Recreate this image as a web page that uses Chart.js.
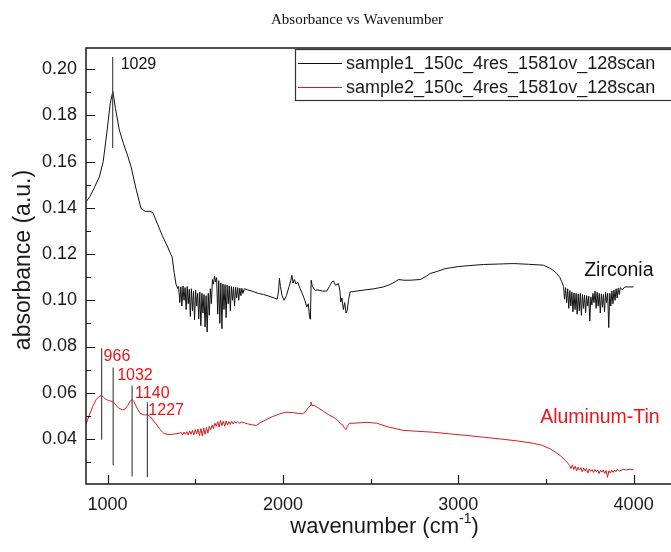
<!DOCTYPE html>
<html>
<head>
<meta charset="utf-8">
<title>Absorbance vs Wavenumber</title>
<script src="https://cdn.jsdelivr.net/npm/chart.js@4.4.1/dist/chart.umd.min.js"></script>
<style>
    html, body { margin: 0; padding: 0; background: #fff; }
    #wrap { width: 671px; height: 552px; overflow: hidden; }
    canvas { display: block; }
</style>
</head>
<body>
<div id="wrap"><canvas id="spectrum" width="700" height="552"></canvas></div>
<script>
// Sample 1 (zirconia) spectrum
const wn1 = [877, 900, 925, 953, 975, 995, 1015, 1030, 1045, 1067, 1090, 1115, 1134, 1160, 1191, 1215, 1240, 1258, 1285, 1315, 1343, 1360, 1368, 1380, 1390, 1400,
    1405, 1412, 1418, 1424, 1430, 1436, 1442, 1448, 1454, 1460, 1466, 1472, 1478, 1484, 1490, 1496, 1502, 1508, 1514, 1520, 1526, 1532, 1538, 1544, 1550, 1556, 1562, 1568, 1574, 1580, 1586, 1592, 1598,
    1604, 1610, 1616, 1622, 1628, 1634, 1640, 1646, 1652, 1658, 1664, 1670, 1676, 1682, 1688, 1694, 1700, 1706, 1712, 1718, 1724, 1730, 1736, 1742, 1748, 1754, 1760, 1766, 1772, 1780,
    1800, 1830, 1860, 1890, 1920, 1950, 1968, 1975, 1980, 1986, 1995, 2007, 2020, 2035, 2045, 2051, 2058, 2065, 2075, 2085, 2098, 2110, 2125, 2136, 2145, 2152, 2157, 2161, 2168, 2184,
    2200, 2225, 2250, 2265, 2280, 2288, 2300, 2317, 2325, 2330, 2336, 2345, 2352, 2360, 2366, 2374, 2383, 2420, 2479, 2520, 2573, 2610, 2640, 2659, 2690, 2726, 2783, 2820, 2840, 2880, 2925, 2950,
    3000, 3060, 3144, 3230, 3315, 3400, 3486, 3520, 3545, 3562, 3580, 3590,
    3600, 3606, 3612, 3618, 3624, 3630, 3636, 3642, 3648, 3654, 3660, 3666, 3672, 3678, 3684, 3690, 3696, 3702, 3708, 3714, 3720, 3726, 3732, 3738, 3744, 3750, 3756, 3762, 3768, 3774, 3780,
    3786, 3792, 3798, 3804, 3810, 3816, 3822, 3828, 3834, 3840, 3846, 3852, 3858, 3864, 3870, 3876, 3882, 3888, 3894, 3900, 3906, 3912, 3918, 3924, 3935, 3950, 3970, 3999];
const abs1 = [0.1426, 0.1450, 0.1488, 0.1534, 0.1600, 0.1720, 0.1850, 0.1905, 0.1830, 0.1737, 0.1680, 0.1625, 0.1578, 0.1490, 0.1397, 0.1385, 0.1385, 0.1380, 0.1330, 0.1275, 0.1231, 0.1200, 0.1188, 0.1120, 0.1070, 0.1051,
    0.1060, 0.0990, 0.1058, 0.0975, 0.1062, 0.1000, 0.1055, 0.0960, 0.1060, 0.0985, 0.1048, 0.0930, 0.1050, 0.0955, 0.1040, 0.0915, 0.1045, 0.0975, 0.1030, 0.0920, 0.1035, 0.0890, 0.1030, 0.0945, 0.1025, 0.0885, 0.1020, 0.0863, 0.1030, 0.0935, 0.1050, 0.0985, 0.1090,
    0.1070, 0.1105, 0.1080, 0.1098, 0.0940, 0.1085, 0.0900, 0.1075, 0.0877, 0.1070, 0.0960, 0.1068, 0.0925, 0.1065, 0.0985, 0.1062, 0.0955, 0.1060, 0.1000, 0.1058, 0.0975, 0.1057, 0.1010, 0.1055, 0.1000, 0.1053, 0.1020, 0.1052, 0.1030, 0.1050,
    0.1045, 0.1038, 0.1030, 0.1025, 0.1018, 0.1010, 0.1005, 0.1040, 0.1095, 0.1060, 0.1020, 0.1000, 0.1020, 0.1060, 0.1085, 0.1108, 0.1075, 0.1090, 0.1070, 0.1078, 0.1051, 0.1030, 0.1000, 0.0971, 0.0985, 0.0925, 0.0918, 0.1087, 0.1060, 0.1043,
    0.1045, 0.1040, 0.1040, 0.1060, 0.1080, 0.1084, 0.1065, 0.1072, 0.1040, 0.0993, 0.1010, 0.0960, 0.0990, 0.0945, 0.0955, 0.1000, 0.1036, 0.1040, 0.1046, 0.1050, 0.1058, 0.1068, 0.1080, 0.1090, 0.1087, 0.1087, 0.1090, 0.1105, 0.1116, 0.1125, 0.1137, 0.1140,
    0.1146, 0.1150, 0.1155, 0.1157, 0.1159, 0.1156, 0.1152, 0.1140, 0.1128, 0.1116, 0.1098, 0.1080,
    0.1060, 0.1005, 0.1055, 0.0990, 0.1050, 0.0965, 0.1042, 0.0975, 0.1035, 0.0950, 0.1032, 0.0960, 0.1030, 0.0940, 0.1028, 0.0955, 0.1030, 0.0935, 0.1025, 0.0965, 0.1022, 0.0945, 0.1020, 0.0975, 0.1018, 0.0910, 0.1015, 0.0980, 0.1030, 0.0990, 0.1040,
    0.0965, 0.1035, 0.0975, 0.1030, 0.0945, 0.1028, 0.0970, 0.1025, 0.0950, 0.1035, 0.0990, 0.1030, 0.0882, 0.1030, 0.0975, 0.1040, 0.0985, 0.1045, 0.1000, 0.1050, 0.1010, 0.1052, 0.1025, 0.1055, 0.1045, 0.1058, 0.1058, 0.1058];

// Sample 2 (aluminum-tin) spectrum
const wn2 = [877, 895, 915, 935, 950, 963, 975, 990, 1005, 1020, 1035, 1050, 1065, 1087, 1100, 1115, 1130, 1140, 1150, 1165, 1181, 1200, 1215, 1229, 1245, 1262, 1277, 1300, 1320, 1343, 1370, 1395, 1410,
    1420, 1428, 1436, 1444, 1452, 1460, 1468, 1476, 1484, 1492, 1500, 1508, 1516, 1524, 1532, 1540, 1548, 1556, 1564, 1572, 1580, 1588, 1596, 1604, 1612, 1620, 1628, 1636, 1644, 1652, 1660, 1668, 1676, 1684, 1692, 1700, 1708, 1716, 1724, 1732, 1740, 1750, 1765, 1780,
    1800, 1820, 1847, 1870, 1900, 1942, 1980, 2018, 2060, 2090, 2113, 2130, 2145, 2155, 2160, 2165, 2180, 2200, 2230, 2260, 2288, 2310, 2330, 2340, 2350, 2360, 2368, 2379, 2400, 2440, 2479, 2510, 2535, 2600, 2687, 2770, 2859, 2950,
    3049, 3150, 3239, 3330, 3429, 3480, 3524, 3555, 3581, 3610, 3625,
    3635, 3643, 3651, 3659, 3667, 3675, 3683, 3691, 3699, 3707, 3715, 3723, 3731, 3739, 3747, 3755, 3763, 3771, 3779, 3787, 3795, 3803, 3811, 3819, 3827, 3835, 3843, 3851, 3859, 3867, 3875, 3883, 3891, 3899, 3907, 3920, 3940, 3960, 3980, 3999];
const abs2 = [0.0465, 0.0500, 0.0540, 0.0570, 0.0583, 0.0588, 0.0582, 0.0572, 0.0566, 0.0564, 0.0558, 0.0545, 0.0532, 0.0526, 0.0530, 0.0545, 0.0565, 0.0570, 0.0562, 0.0538, 0.0516, 0.0505, 0.0504, 0.0505, 0.0495, 0.0478, 0.0465, 0.0440, 0.0425, 0.0419, 0.0420, 0.0423, 0.0425,
    0.0428, 0.0418, 0.0430, 0.0420, 0.0432, 0.0417, 0.0435, 0.0420, 0.0437, 0.0418, 0.0440, 0.0422, 0.0442, 0.0415, 0.0445, 0.0412, 0.0447, 0.0420, 0.0450, 0.0425, 0.0455, 0.0440, 0.0460, 0.0445, 0.0468, 0.0455, 0.0475, 0.0452, 0.0480, 0.0458, 0.0476, 0.0455, 0.0478, 0.0460, 0.0475, 0.0462, 0.0476, 0.0465, 0.0475, 0.0468, 0.0474, 0.0468, 0.0473, 0.0470,
    0.0465, 0.0462, 0.0458, 0.0470, 0.0482, 0.0497, 0.0508, 0.0516, 0.0514, 0.0510, 0.0509, 0.0520, 0.0535, 0.0545, 0.0560, 0.0545, 0.0545, 0.0535, 0.0520, 0.0505, 0.0494, 0.0482, 0.0465, 0.0462, 0.0448, 0.0441, 0.0455, 0.0468, 0.0468, 0.0470, 0.0472, 0.0470, 0.0468, 0.0452, 0.0437, 0.0433, 0.0429, 0.0422,
    0.0415, 0.0407, 0.0400, 0.0392, 0.0381, 0.0372, 0.0357, 0.0342, 0.0328, 0.0308, 0.0295,
    0.0285, 0.0272, 0.0288, 0.0268, 0.0282, 0.0262, 0.0278, 0.0265, 0.0276, 0.0258, 0.0274, 0.0262, 0.0272, 0.0252, 0.0270, 0.0260, 0.0268, 0.0255, 0.0268, 0.0258, 0.0266, 0.0250, 0.0265, 0.0256, 0.0266, 0.0250, 0.0264, 0.0234, 0.0262, 0.0252, 0.0265, 0.0255, 0.0266, 0.0258, 0.0267, 0.0262, 0.0268, 0.0266, 0.0269, 0.0266];

const seriesNames = ['sample1_150c_4res_1581ov_128scan', 'sample2_150c_4res_1581ov_128scan'];
const sampleNames = ['Zirconia', 'Aluminum-Tin'];

// Axis ticks
const xTicks = [1000, 2000, 3000, 4000];
const xMinorTicks = [1500, 2500, 3500];
const yTicks = [0.04, 0.06, 0.08, 0.10, 0.12, 0.14, 0.16, 0.18, 0.20];
const yMinorTicks = [0.03, 0.05, 0.07, 0.09, 0.11, 0.13, 0.15, 0.17, 0.19];

// Peak markers: wavenumber, marker line top and bottom (absorbance)
const peaks1 = [1029];
const peakTop1 = [0.2053];
const peakBottom1 = [0.1659];
const peaks2 = [966, 1032, 1140, 1227];
const peakTop2 = [0.0793, 0.0709, 0.0631, 0.0559];
const peakBottom2 = [0.0397, 0.0286, 0.0237, 0.0234];

const BLACK = '#111111';
const RED = 'rgb(212, 28, 32)';
const LABEL_RED = 'rgb(235, 20, 25)';
const SANS = '"Liberation Sans", Arial, sans-serif';

// label offsets (px) from the top of each marker line
const peakLabelDx1 = [8];
const peakLabelDx2 = [2, 4, 3, 1];
const sampleLabelPos = [{ x: 3718, y: 0.1130 }, { x: 3467, y: 0.0494 }];

function toPoints(xs, ys) {
    return xs.map((x, i) => ({ x: x, y: ys[i] }));
}

const decorations = {
    id: 'decorations',
    afterDraw(chart) {
        const ctx = chart.ctx;
        const area = chart.chartArea;
        const xs = chart.scales.x;
        const ys = chart.scales.y;

        ctx.save();

        // frame
        ctx.strokeStyle = '#1a1a1a';
        ctx.lineWidth = 1.5;
        ctx.strokeRect(area.left, area.top, area.right - area.left, area.bottom - area.top);

        // inward ticks
        ctx.lineWidth = 1.2;
        ctx.beginPath();
        xTicks.forEach(v => {
            const px = Math.round(xs.getPixelForValue(v)) + 0.5;
            ctx.moveTo(px, area.bottom); ctx.lineTo(px, area.bottom - 9);
        });
        xMinorTicks.forEach(v => {
            const px = Math.round(xs.getPixelForValue(v)) + 0.5;
            ctx.moveTo(px, area.bottom); ctx.lineTo(px, area.bottom - 5);
        });
        yTicks.forEach(v => {
            const py = Math.round(ys.getPixelForValue(v)) + 0.5;
            ctx.moveTo(area.left, py); ctx.lineTo(area.left + 9, py);
        });
        yMinorTicks.forEach(v => {
            const py = Math.round(ys.getPixelForValue(v)) + 0.5;
            ctx.moveTo(area.left, py); ctx.lineTo(area.left + 5, py);
        });
        ctx.stroke();

        // peak markers
        function drawPeaks(peaks, tops, bottoms, dxs, color) {
            peaks.forEach((wn, i) => {
                const px = xs.getPixelForValue(wn);
                const top = ys.getPixelForValue(tops[i]);
                ctx.strokeStyle = '#4a4a4a';
                ctx.lineWidth = 1.2;
                ctx.beginPath();
                ctx.moveTo(px, top);
                ctx.lineTo(px, ys.getPixelForValue(bottoms[i]));
                ctx.stroke();
                ctx.fillStyle = color;
                ctx.font = '16px ' + SANS;
                ctx.textAlign = 'left';
                ctx.textBaseline = 'middle';
                ctx.fillText(String(wn), px + dxs[i], top + 8);
            });
        }
        drawPeaks(peaks1, peakTop1, peakBottom1, peakLabelDx1, '#111');
        drawPeaks(peaks2, peakTop2, peakBottom2, peakLabelDx2, LABEL_RED);

        // sample names next to the curves
        ctx.font = '19.5px ' + SANS;
        ctx.textAlign = 'left';
        ctx.textBaseline = 'middle';
        ctx.fillStyle = '#111';
        ctx.fillText(sampleNames[0], xs.getPixelForValue(sampleLabelPos[0].x), ys.getPixelForValue(sampleLabelPos[0].y));
        ctx.fillStyle = LABEL_RED;
        ctx.fillText(sampleNames[1], xs.getPixelForValue(sampleLabelPos[1].x), ys.getPixelForValue(sampleLabelPos[1].y));

        // legend box
        const lx = 295, ly = 49, rowH = 24;
        ctx.fillStyle = '#fff';
        ctx.fillRect(lx, ly, chart.width - lx, 2 * rowH + 3);
        ctx.strokeStyle = '#333';
        ctx.lineWidth = 1.2;
        ctx.strokeRect(lx + 0.5, ly + 0.5, chart.width, 2 * rowH + 3);
        ctx.font = '18px ' + SANS;
        chart.data.datasets.forEach((ds, i) => {
            const cy = ly + 14 + i * rowH;
            ctx.strokeStyle = ds.borderColor;
            ctx.lineWidth = 1;
            ctx.beginPath();
            ctx.moveTo(lx + 3, cy + 0.5);
            ctx.lineTo(lx + 47, cy + 0.5);
            ctx.stroke();
            ctx.fillStyle = '#1a1a1a';
            ctx.fillText(ds.label, lx + 51, cy + 1);
        });

        // chart title
        ctx.font = '15px "Liberation Serif", "Times New Roman", serif';
        ctx.textAlign = 'center';
        ctx.fillStyle = '#111';
        ctx.fillText('Absorbance vs Wavenumber', 357, 20);

        // axis titles
        ctx.fillStyle = '#1a1a1a';
        ctx.font = '23px ' + SANS;
        ctx.save();
        ctx.translate(24, 260);
        ctx.rotate(-Math.PI / 2);
        ctx.textAlign = 'center';
        ctx.fillText('absorbance (a.u.)', 0, 0);
        ctx.restore();

        const main = 'wavenumber (cm';
        ctx.font = '22px ' + SANS;
        const wMain = ctx.measureText(main).width;
        ctx.font = '14px ' + SANS;
        const wSup = ctx.measureText('-1').width;
        ctx.font = '22px ' + SANS;
        const wEnd = ctx.measureText(')').width;
        let tx = 384.5 - (wMain + wSup + wEnd) / 2;
        ctx.textAlign = 'left';
        ctx.fillText(main, tx, 527);
        tx += wMain;
        ctx.font = '14px ' + SANS;
        ctx.fillText('-1', tx, 519);
        tx += wSup;
        ctx.font = '22px ' + SANS;
        ctx.fillText(')', tx, 527);

        ctx.restore();
    }
};

Chart.defaults.font.family = SANS;

new Chart(document.getElementById('spectrum'), {
    type: 'line',
    data: {
        datasets: [{
            label: seriesNames[0],
            data: toPoints(wn1, abs1),
            borderColor: BLACK,
            borderWidth: 1,
            pointRadius: 0,
            tension: 0
        }, {
            label: seriesNames[1],
            data: toPoints(wn2, abs2),
            borderColor: RED,
            borderWidth: 1,
            pointRadius: 0,
            tension: 0
        }]
    },
    options: {
        responsive: false,
        animation: false,
        devicePixelRatio: 1,
        layout: { padding: { top: 48, right: 5, left: 0, bottom: 0 } },
        plugins: {
            legend: { display: false },
            title: { display: false },
            tooltip: { enabled: false }
        },
        scales: {
            x: {
                type: 'linear',
                min: 877,
                max: 4350,
                grid: { display: false, drawTicks: false },
                border: { display: false },
                afterBuildTicks: scale => { scale.ticks = xTicks.map(v => ({ value: v })); },
                afterFit: scale => { scale.height = 68; },
                ticks: {
                    font: { size: 18 },
                    color: '#1a1a1a',
                    padding: 10,
                    maxRotation: 0,
                    autoSkip: false,
                    callback: v => String(v)
                }
            },
            y: {
                min: 0.0205,
                max: 0.2092,
                grid: { display: false, drawTicks: false },
                border: { display: false },
                afterBuildTicks: scale => { scale.ticks = yTicks.map(v => ({ value: v })); },
                afterFit: scale => { scale.width = 86; },
                ticks: {
                    font: { size: 18 },
                    color: '#1a1a1a',
                    padding: 9,
                    callback: v => v.toFixed(2)
                }
            }
        }
    },
    plugins: [decorations]
});
</script>
</body>
</html>
